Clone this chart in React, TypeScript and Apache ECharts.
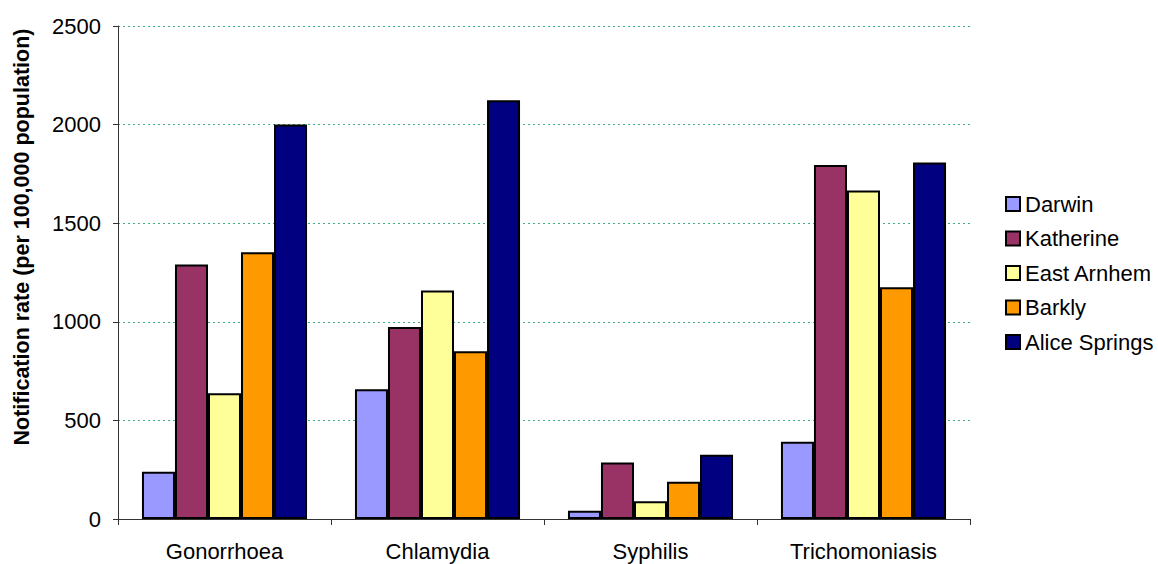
import React, { useEffect, useRef } from "react";
import * as echarts from "echarts";

const categories = ["Gonorrhoea", "Chlamydia", "Syphilis", "Trichomoniasis"];
const seriesNames = ["Darwin", "Katherine", "East Arnhem", "Barkly", "Alice Springs"];
const darwin = [240, 658, 42, 392];
const katherine = [1290, 973, 286, 1795];
const eastArnhem = [638, 1159, 90, 1666];
const barkly = [1353, 851, 189, 1175];
const aliceSprings = [2001, 2123, 326, 1808];
const seriesValues = [darwin, katherine, eastArnhem, barkly, aliceSprings];
const colors = ["#9999FF", "#993366", "#FFFF99", "#FF9900", "#000080"];
const yTicks = [0, 500, 1000, 1500, 2000, 2500];
const yAxisTitle = "Notification rate (per 100,000 population)";

const FONT = "'Liberation Sans', Arial, Helvetica, sans-serif";

export default function App() {
  const ref = useRef<HTMLDivElement>(null);
  useEffect(() => {
    if (!ref.current) return;
    const chart = echarts.init(ref.current, null, { renderer: "svg" });
    chart.setOption({
      animation: false,
      backgroundColor: "#ffffff",
      textStyle: { fontFamily: FONT },
      grid: { left: 118, right: 188, top: 26, bottom: 45, containLabel: false },
      legend: {
        orient: "vertical",
        left: 1000,
        top: 188,
        itemWidth: 14,
        itemHeight: 14,
        itemGap: 12.5,
        icon: "rect",
        data: seriesNames,
        textStyle: { fontSize: 22, color: "#000", fontFamily: FONT },
      },
      xAxis: {
        type: "category",
        data: categories,
        axisLine: { lineStyle: { color: "#333", width: 1 } },
        axisTick: { show: true, alignWithLabel: false, length: 6, lineStyle: { color: "#333" } },
        axisLabel: { fontSize: 22, color: "#000", margin: 21, fontFamily: FONT },
        splitLine: { show: false },
      },
      yAxis: {
        type: "value",
        min: yTicks[0],
        max: yTicks[yTicks.length - 1],
        interval: 500,
        axisLine: { show: true, lineStyle: { color: "#333", width: 1 } },
        axisTick: { show: true, length: 5, lineStyle: { color: "#333" } },
        axisLabel: {
          fontSize: 22,
          color: "#000",
          margin: 17,
          fontFamily: FONT,
          formatter: (v: number) => String(v),
        },
        splitLine: {
          show: true,
          lineStyle: { color: "#3FAE7A", type: [2, 3], width: 1 },
        },
      },
      graphic: [
        {
          type: "text",
          x: 22,
          y: 237,
          rotation: Math.PI / 2,
          style: {
            text: yAxisTitle,
            fontSize: 21.5,
            fontWeight: "bold",
            fontFamily: FONT,
            fill: "#000",
            align: "center",
            verticalAlign: "middle",
          },
        },
      ],
      series: seriesNames.map((name, i) => ({
        name,
        type: "bar",
        data: seriesValues[i],
        barGap: "0%",
        barCategoryGap: "22.5%",
        itemStyle: { color: colors[i], borderColor: "#000", borderWidth: 2 },
      })),
    });
    return () => chart.dispose();
  }, []);
  return (
    <div
      ref={ref}
      style={{ position: "fixed", left: 0, top: 0, width: 1158, height: 564 }}
    />
  );
}
